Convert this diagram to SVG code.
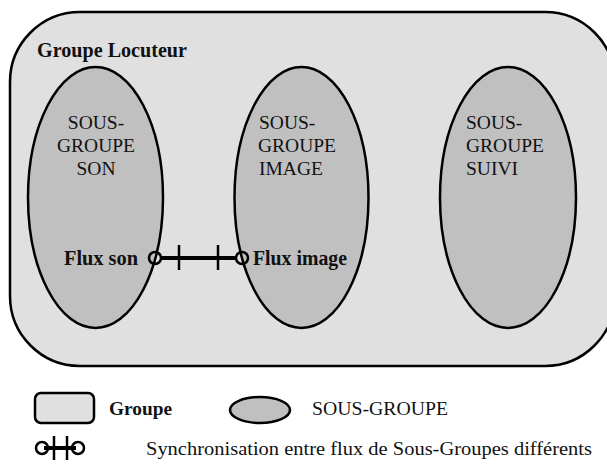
<svg xmlns="http://www.w3.org/2000/svg" width="607" height="467" viewBox="0 0 607 467">
<style>
.grp{fill:#e0e0e0;stroke:#000;stroke-width:2.5}
.sg{fill:#c0c0c0;stroke:#000;stroke-width:2.5}
.t{font-family:'Liberation Serif','DejaVu Serif',serif;font-size:19.5px;font-weight:normal;fill:#111}
.b{font-family:'Liberation Serif','DejaVu Serif',serif;font-size:20px;font-weight:bold;fill:#111}
.ring{fill:none;stroke:#000;stroke-width:2.5}
.bar{stroke:#000;stroke-width:4}
.tick{stroke:#000;stroke-width:2.5}
</style>
<rect width="607" height="467" fill="#fff"/>
<g id="groupe-locuteur">
<rect class="grp" x="10" y="12" width="605" height="354" rx="70" ry="70"/>
<text class="b" x="37" y="57" textLength="150" lengthAdjust="spacingAndGlyphs">Groupe Locuteur</text>
</g>
<g id="sg-son">
<ellipse class="sg" cx="95.5" cy="197.5" rx="67.5" ry="130.5"/>
<text class="t" text-anchor="middle" x="96" y="129">SOUS-</text>
<text class="t" text-anchor="middle" x="96" y="152">GROUPE</text>
<text class="t" text-anchor="middle" x="96" y="175">SON</text>
<text class="b" x="64" y="265" textLength="74" lengthAdjust="spacingAndGlyphs">Flux son</text>
</g>
<g id="sg-image">
<ellipse class="sg" cx="301.5" cy="197.5" rx="67" ry="130.5"/>
<text class="t" x="259" y="129">SOUS-</text>
<text class="t" x="258" y="152">GROUPE</text>
<text class="t" x="259" y="175">IMAGE</text>
<text class="b" x="253" y="265" textLength="94" lengthAdjust="spacingAndGlyphs">Flux image</text>
</g>
<g id="sg-suivi">
<ellipse class="sg" cx="508" cy="197.5" rx="68" ry="130.5"/>
<text class="t" x="466" y="129">SOUS-</text>
<text class="t" x="466" y="152">GROUPE</text>
<text class="t" x="466" y="175">SUIVI</text>
</g>
<g id="connectors">
<line class="bar" x1="161" y1="258" x2="236" y2="258"/>
<line class="tick" x1="179" y1="245" x2="179" y2="270"/>
<line class="tick" x1="218" y1="245" x2="218" y2="270"/>
<circle class="ring" cx="155" cy="258" r="6"/>
<circle class="ring" cx="242" cy="258" r="6"/>
</g>
<g id="legend">
<rect class="grp" x="35" y="393" width="59" height="30" rx="6" ry="6"/>
<text class="b" x="109" y="415" textLength="63" lengthAdjust="spacingAndGlyphs" style="font-size:19px">Groupe</text>
<ellipse class="sg" cx="260" cy="410" rx="30" ry="13"/>
<text class="t" x="312" y="415" textLength="136" lengthAdjust="spacingAndGlyphs">SOUS-GROUPE</text>
<line class="bar" x1="44" y1="448" x2="76" y2="448"/>
<line class="tick" x1="54" y1="436" x2="54" y2="460"/>
<line class="tick" x1="67" y1="436" x2="67" y2="460"/>
<circle class="ring" cx="42" cy="448" r="6"/>
<circle class="ring" cx="78" cy="448" r="6"/>
<text class="t" x="146" y="455" textLength="446" lengthAdjust="spacingAndGlyphs">Synchronisation entre flux de Sous-Groupes différents</text>
</g>
</svg>
